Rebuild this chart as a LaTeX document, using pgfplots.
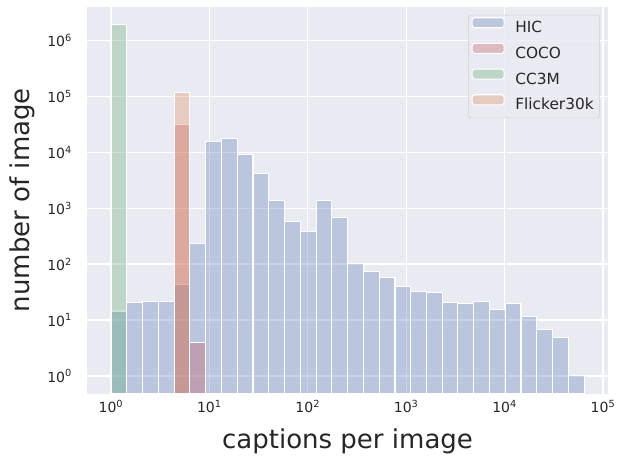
\documentclass[border=0pt]{standalone}
\usepackage{fontspec}
\setmainfont{DejaVu Sans}
\usepackage{pgfplots}
\pgfplotsset{compat=1.18}

\definecolor{bg}{HTML}{EAEAF2}
\definecolor{sbblue}{HTML}{4C72B0}
\definecolor{sbred}{HTML}{C44E52}
\definecolor{sbgreen}{HTML}{55A868}
\definecolor{sborange}{HTML}{DD8452}
\definecolor{txt}{HTML}{262626}

\pgfplotsset{
  patch/.style={legend image code/.code={\draw[##1] (0pt,0.6pt) rectangle (24pt,8.1pt);}},
}

\begin{document}
\begin{tikzpicture}
\begin{axis}[
  name=ax,
  scale only axis, width=390pt, height=290pt,
  xmode=log, ymode=log,
  log origin y=infty,
  xmin=0.5754, xmax=111400,
  ymin=0.484, ymax=4.05e6,
  axis background/.style={fill=bg},
  axis line style={draw=none},
  grid=major, major grid style={white, line width=1pt},
  major tick length=0pt, minor tick length=0pt,
  minor tick style={draw=none},
  xtick={1,10,100,1000,10000,100000},
  xticklabels={10\textsuperscript{0},10\textsuperscript{1},10\textsuperscript{2},10\textsuperscript{3},10\textsuperscript{4},10\textsuperscript{5}},
  ytick={1,10,100,1000,10000,100000,1000000},
  yticklabels={10\textsuperscript{0},10\textsuperscript{1},10\textsuperscript{2},10\textsuperscript{3},10\textsuperscript{4},10\textsuperscript{5},10\textsuperscript{6}},
  tick label style={font=\fontsize{10.5}{12}\selectfont, text=txt},
  yticklabel style={xshift=-8pt},
  xticklabel style={yshift=-1.5pt},
  xlabel={captions per image}, ylabel={number of image},
  label style={font=\fontsize{19.5}{22}\selectfont, text=txt},
  xlabel style={at={(axis description cs:0.5,-0.123)}, anchor=center},
  ylabel style={at={(axis description cs:-0.1246,0.5)}, anchor=center},
  legend cell align=left,
  legend style={at={(1,1)}, anchor=north east, xshift=-5.8pt, yshift=-6.2pt,
    fill=bg, fill opacity=0.8, text opacity=1, draw=black!18, rounded corners=2pt,
    font=\fontsize{11.5}{14}\selectfont, text=txt,
    inner xsep=2.5pt, inner ysep=1.5pt, row sep=3pt, column sep=6pt,
    nodes={text height=9pt, text depth=2.5pt, inner sep=2pt}},
]
% HIC
\addplot[ybar interval, fill=sbblue, fill opacity=0.3, draw=white, line width=0.8pt, patch] coordinates {
(1,14.5) (1.4462,20.4) (2.0915,21.4) (3.0248,21.4) (4.3745,43) (6.3261,231)
(9.1492,15500) (13.250,17800) (19.166,9200) (27.724,4220) (40.103,1390)
(58.008,580) (83.909,378) (121.37,1370) (175.56,690) (253.95,103)
(367.34,73) (531.36,57) (768.6,39.5) (1111.8,32) (1602.0,31)
(2317.2,20.4) (3351.8,19.5) (4848.4,21.4) (7013.1,15.5) (10133,19.5)
(14658,11.6) (21203,6.8) (30669,4.8) (44363,1) (64121,1)};
\addlegendentry{HIC}
% COCO
\addplot[ybar interval, fill=sbred, fill opacity=0.3, draw=white, line width=0.8pt, patch] coordinates {
(4.3745,31000) (6.3261,4) (9.1492,1)};
\addlegendentry{COCO}
% CC3M
\addplot[ybar interval, fill=sbgreen, fill opacity=0.3, draw=white, line width=0.8pt, patch] coordinates {
(1,1.96e6) (1.4462,1)};
\addlegendentry{CC3M}
% Flicker30k
\addplot[ybar interval, fill=sborange, fill opacity=0.3, draw=white, line width=0.8pt, patch] coordinates {
(4.3745,120000) (6.3261,1)};
\addlegendentry{Flicker30k}
\end{axis}
\pgfresetboundingbox
\path[use as bounding box] ([xshift=-65.5pt,yshift=-47pt]ax.south west) rectangle ([xshift=8.5pt,yshift=5pt]ax.north east);
\end{tikzpicture}
\end{document}
